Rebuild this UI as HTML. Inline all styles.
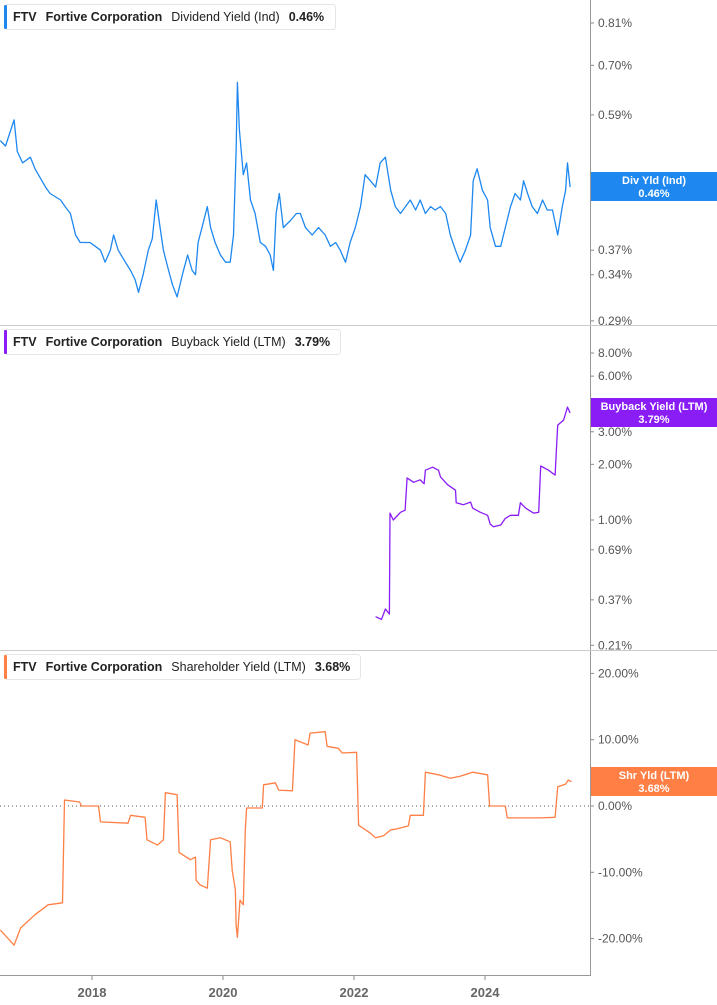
<!DOCTYPE html>
<html><head><meta charset="utf-8"><style>
body{margin:0;background:#fff;font-family:"Liberation Sans",sans-serif;}
svg{display:block}
</style></head><body>
<svg id="c" width="717" height="1005" xmlns="http://www.w3.org/2000/svg"></svg>
<script>
// ---------- data ----------
const divDates=[2016.60,2016.68,2016.81,2016.86,2016.94,2017.06,2017.13,2017.29,2017.36,2017.52,2017.59,2017.67,2017.75,2017.82,2017.97,2018.05,2018.13,2018.20,2018.28,2018.33,2018.40,2018.51,2018.59,2018.66,2018.71,2018.78,2018.86,2018.92,2018.98,2019.04,2019.09,2019.17,2019.23,2019.30,2019.38,2019.46,2019.53,2019.58,2019.62,2019.68,2019.76,2019.81,2019.88,2019.96,2020.04,2020.11,2020.16,2020.20,2020.22,2020.25,2020.31,2020.36,2020.42,2020.49,2020.57,2020.65,2020.72,2020.77,2020.81,2020.86,2020.92,2021.03,2021.12,2021.18,2021.26,2021.36,2021.46,2021.56,2021.64,2021.72,2021.79,2021.87,2021.94,2022.02,2022.10,2022.17,2022.25,2022.33,2022.40,2022.48,2022.56,2022.63,2022.71,2022.86,2022.94,2023.01,2023.09,2023.17,2023.24,2023.32,2023.40,2023.47,2023.55,2023.62,2023.70,2023.78,2023.82,2023.88,2023.96,2024.04,2024.08,2024.16,2024.24,2024.31,2024.39,2024.46,2024.54,2024.59,2024.65,2024.72,2024.80,2024.88,2024.95,2025.03,2025.11,2025.18,2025.23,2025.26,2025.30];
const divValues=[0.54,0.53,0.58,0.52,0.50,0.51,0.49,0.46,0.45,0.44,0.43,0.42,0.39,0.38,0.38,0.375,0.37,0.355,0.37,0.39,0.37,0.355,0.345,0.334,0.32,0.34,0.37,0.385,0.44,0.40,0.37,0.345,0.328,0.315,0.34,0.364,0.345,0.34,0.38,0.40,0.43,0.40,0.38,0.364,0.355,0.355,0.39,0.52,0.66,0.56,0.48,0.50,0.44,0.42,0.38,0.375,0.364,0.345,0.42,0.45,0.40,0.41,0.42,0.42,0.40,0.39,0.40,0.39,0.375,0.38,0.37,0.355,0.38,0.40,0.43,0.48,0.47,0.46,0.50,0.51,0.455,0.43,0.42,0.44,0.425,0.44,0.42,0.43,0.425,0.43,0.42,0.39,0.37,0.355,0.37,0.39,0.47,0.49,0.455,0.44,0.40,0.375,0.375,0.40,0.43,0.45,0.44,0.47,0.45,0.43,0.42,0.44,0.425,0.425,0.39,0.43,0.455,0.50,0.46];
const bbDates=[2022.33,2022.42,2022.48,2022.54,2022.55,2022.60,2022.71,2022.78,2022.81,2022.91,2023.01,2023.07,2023.09,2023.20,2023.29,2023.32,2023.43,2023.55,2023.56,2023.67,2023.78,2023.81,2023.93,2024.04,2024.08,2024.13,2024.24,2024.31,2024.39,2024.51,2024.54,2024.62,2024.74,2024.82,2024.85,2024.97,2025.07,2025.11,2025.20,2025.26,2025.30];
const bbValues=[0.30,0.29,0.33,0.31,1.09,1.00,1.10,1.13,1.69,1.60,1.65,1.57,1.86,1.93,1.86,1.71,1.55,1.45,1.24,1.21,1.25,1.16,1.10,1.06,0.95,0.92,0.94,1.02,1.06,1.06,1.24,1.16,1.09,1.10,1.96,1.86,1.75,3.26,3.47,4.08,3.79];
const shDates=[2016.60,2016.81,2016.91,2017.13,2017.33,2017.55,2017.58,2017.81,2017.84,2018.10,2018.13,2018.55,2018.59,2018.81,2018.84,2019.00,2019.09,2019.12,2019.30,2019.33,2019.50,2019.58,2019.59,2019.65,2019.76,2019.81,2019.96,2020.11,2020.14,2020.19,2020.20,2020.22,2020.26,2020.31,2020.34,2020.36,2020.60,2020.62,2020.80,2020.85,2021.06,2021.10,2021.30,2021.33,2021.56,2021.59,2021.76,2021.82,2022.04,2022.07,2022.25,2022.33,2022.45,2022.56,2022.63,2022.83,2022.86,2023.06,2023.09,2023.29,2023.47,2023.62,2023.81,2024.04,2024.07,2024.31,2024.34,2024.62,2024.85,2025.07,2025.11,2025.23,2025.27,2025.32];
const shValues=[-18.7,-21.0,-18.4,-16.4,-14.9,-14.6,0.9,0.6,0,0,-2.4,-2.6,-1.4,-1.7,-5.1,-5.9,-5.1,2.0,1.7,-7.0,-8.1,-7.7,-11.2,-11.9,-12.4,-5.1,-4.8,-5.4,-9.7,-12.7,-18.0,-19.8,-14.2,-14.9,-3.6,-0.3,-0.3,3.2,3.5,2.4,2.3,10.0,9.2,11.0,11.2,9.0,8.7,8.0,8.1,-2.9,-4.1,-4.8,-4.5,-3.6,-3.5,-3.0,-1.4,-1.4,5.1,4.7,4.2,4.5,5.1,4.7,0,0,-1.8,-1.8,-1.8,-1.7,2.9,3.3,3.9,3.68];
const divTicks=[0.81,0.70,0.59,0.37,0.34,0.29];
const bbTicks=[8,6,3,2,1,0.69,0.37,0.21];
const shTicks=[20,10,0,-10,-20];
const years=[2018,2020,2022,2024];

// ---------- scales ----------
const X=t=>92+(t-2018)*65.5;
const yDiv=v=>23+(Math.log(0.81)-Math.log(v))*290;
const yBB=v=>520-80.3*Math.log(v);
const ySh=v=>806-6.63*v;
const NS='http://www.w3.org/2000/svg';
const svg=document.getElementById('c');
function el(tag,attrs,parent){const e=document.createElementNS(NS,tag);for(const k in attrs)e.setAttribute(k,attrs[k]);(parent||svg).appendChild(e);return e;}
function txt(s,attrs,parent){const e=el('text',attrs,parent);e.textContent=s;return e;}

// frame
let g=el('g',{});


el('line',{x1:590.5,y1:0,x2:590.5,y2:975,stroke:'#999','stroke-width':1},g);
el('line',{x1:0,y1:325.5,x2:717,y2:325.5,stroke:'#ccc','stroke-width':1},g);
el('line',{x1:0,y1:650.5,x2:717,y2:650.5,stroke:'#ccc','stroke-width':1},g);
el('line',{x1:0,y1:975.5,x2:591,y2:975.5,stroke:'#999','stroke-width':1},g);
// zero line
let z=el('line',{x1:0,y1:ySh(0),x2:590,y2:ySh(0),stroke:'#555','stroke-width':1,'stroke-dasharray':'1,3'});



function axis(ticks,yf,fmt,name){
  const ag=el('g',{});
  
  
  ticks.forEach(v=>{const y=yf(v);
    el('line',{x1:591,y1:y,x2:594,y2:y,stroke:'#888'},ag);
    const t=txt(fmt(v),{x:598,y:y+4,'font-size':12,fill:'#555'},ag);
    
    
  });
}
axis(divTicks,yDiv,v=>v.toFixed(2)+'%','dividend-y-axis');
axis(bbTicks,yBB,v=>v.toFixed(2)+'%','buyback-y-axis');
axis(shTicks,ySh,v=>v.toFixed(2)+'%','shareholder-y-axis');

// x axis
const xg=el('g',{});


years.forEach(yr=>{const x=X(yr);
  el('line',{x1:x,y1:976,x2:x,y2:980,stroke:'#888'},xg);
  const t=txt(String(yr),{x:x,y:997,'font-size':13,'font-weight':'bold',fill:'#666','text-anchor':'middle'},xg);
  
  
});

function line(dates,vals,yf,color,name){
  const d=dates.map((t,i)=>(i?'L':'M')+X(t).toFixed(1)+','+yf(vals[i]).toFixed(1)).join('');
  const p=el('path',{d:d,fill:'none',stroke:color,'stroke-width':1.3,'stroke-linejoin':'round'});
  
  
}
line(divDates,divValues,yDiv,'#1e88f0','dividend-yield-line');
line(bbDates,bbValues,yBB,'#8a1cf5','buyback-yield-line');
line(shDates,shValues,ySh,'#ff7f45','shareholder-yield-line');

function legend(y,w,color,label,val,name){
  const lg=el('g',{});
  
  
  el('rect',{x:4.5,y:y+0.5,width:w,height:25,rx:3,fill:'#fff',stroke:'#e6e6e6'},lg);
  el('rect',{x:4,y:y+1,width:3,height:24,rx:1,fill:color},lg);
  const t=txt('',{x:13,y:y+17,'font-size':12.5,fill:'#222'},lg);
  const a=el('tspan',{'font-weight':'bold'},t);a.textContent='FTV';
  const b=el('tspan',{'font-weight':'bold',dx:9},t);b.textContent='Fortive Corporation';
  const c=el('tspan',{dx:9},t);c.textContent=label;
  const d=el('tspan',{'font-weight':'bold',dx:9},t);d.textContent=val;
}
legend(4,331,'#1e88f0','Dividend Yield (Ind)','0.46%','dividend-legend');
legend(329,336,'#8a1cf5','Buyback Yield (LTM)','3.79%','buyback-legend');
legend(654,356,'#ff7f45','Shareholder Yield (LTM)','3.68%','shareholder-legend');

function badge(y,color,l1,l2,name){
  const bg=el('g',{});
  
  
  el('rect',{x:591,y:y,width:126,height:29,fill:color},bg);
  txt(l1,{x:654,y:y+12,'font-size':11,'font-weight':'bold',fill:'#fff','text-anchor':'middle'},bg);
  txt(l2,{x:654,y:y+25,'font-size':11,'font-weight':'bold',fill:'#fff','text-anchor':'middle'},bg);
}
badge(172,'#1e88f0','Div Yld (Ind)','0.46%','dividend-value-badge');
badge(398,'#8a1cf5','Buyback Yield (LTM)','3.79%','buyback-value-badge');
badge(767,'#ff7f45','Shr Yld (LTM)','3.68%','shareholder-value-badge');
</script>
</body></html>
